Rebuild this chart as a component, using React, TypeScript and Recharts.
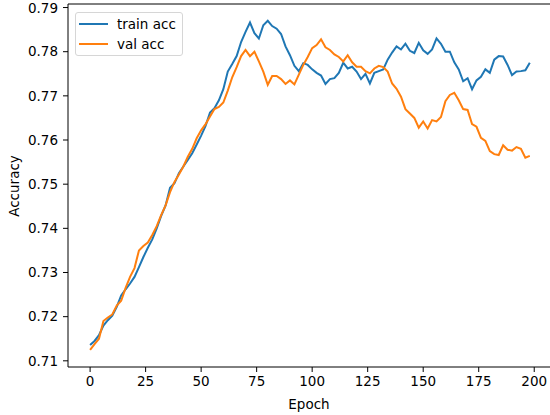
import React from 'react';
import { LineChart, Line, XAxis, YAxis, Legend, ReferenceLine } from 'recharts';

// epochs sampled every 2 steps
const epochs = [
  0, 2, 4, 6, 8, 10, 12, 14, 16, 18, 20, 22, 24, 26, 28, 30, 32, 34, 36, 38,
  40, 42, 44, 46, 48, 50, 52, 54, 56, 58, 60, 62, 64, 66, 68, 70, 72, 74, 76, 78,
  80, 82, 84, 86, 88, 90, 92, 94, 96, 98, 100, 102, 104, 106, 108, 110, 112, 114, 116, 118,
  120, 122, 124, 126, 128, 130, 132, 134, 136, 138, 140, 142, 144, 146, 148, 150, 152, 154, 156, 158,
  160, 162, 164, 166, 168, 170, 172, 174, 176, 178, 180, 182, 184, 186, 188, 190, 192, 194, 196, 198
];

const trainAcc = [
  0.7136, 0.7145, 0.7158, 0.718, 0.7192, 0.7202, 0.7222, 0.7248, 0.7262, 0.7275,
  0.729, 0.7312, 0.7335, 0.7356, 0.7375, 0.74, 0.7428, 0.7452, 0.7492, 0.7502,
  0.7525, 0.754, 0.7555, 0.757, 0.759, 0.761, 0.7632, 0.7662, 0.7672, 0.769,
  0.7715, 0.7755, 0.7772, 0.779, 0.7822, 0.7845, 0.7866, 0.7842, 0.783, 0.786,
  0.787, 0.7858, 0.7852, 0.784, 0.7812, 0.7792, 0.7768, 0.7756, 0.7774, 0.777,
  0.776, 0.7752, 0.7746, 0.7727, 0.7738, 0.774, 0.7752, 0.7775, 0.7762, 0.7766,
  0.7755, 0.7738, 0.775, 0.7728, 0.7752, 0.7756, 0.776, 0.7782, 0.7798, 0.7812,
  0.7805, 0.7818, 0.7802, 0.7797, 0.782, 0.7803, 0.7795, 0.7805, 0.783, 0.7818,
  0.78, 0.78, 0.7776, 0.776, 0.7733, 0.774, 0.7715, 0.7735, 0.7743, 0.776,
  0.7752, 0.7782, 0.779, 0.7789, 0.777, 0.7747, 0.7755, 0.7756, 0.7758, 0.7775
];

const valAcc = [
  0.7125, 0.7138, 0.715, 0.719, 0.7198, 0.7205, 0.7225, 0.7236, 0.7265, 0.729,
  0.731, 0.735, 0.736, 0.7368, 0.7385, 0.7405, 0.743, 0.7452, 0.7482, 0.7505,
  0.7522, 0.754, 0.7562, 0.758, 0.7604, 0.7622, 0.7636, 0.7653, 0.767, 0.7675,
  0.7685, 0.7712, 0.7742, 0.7765, 0.779, 0.7804, 0.779, 0.78, 0.7778, 0.7755,
  0.7725, 0.7745, 0.7745, 0.7738, 0.7727, 0.7735, 0.7726, 0.7748, 0.777, 0.7788,
  0.7808, 0.7815, 0.7828, 0.781, 0.7804, 0.7794, 0.7788, 0.7778, 0.7792, 0.7776,
  0.7766, 0.7766, 0.7756, 0.7751, 0.7762, 0.7768, 0.7765, 0.7755, 0.7728, 0.7716,
  0.7698, 0.767, 0.766, 0.765, 0.7628, 0.7642, 0.7626, 0.7645, 0.7642, 0.7652,
  0.7688, 0.7702, 0.7707, 0.769, 0.767, 0.7668, 0.7636, 0.763, 0.7605, 0.7598,
  0.7575, 0.7568, 0.7566, 0.7588, 0.7578, 0.7576, 0.7584, 0.758, 0.756, 0.7564
];

const xTicks = [0, 25, 50, 75, 100, 125, 150, 175, 200];
const yTicks = [0.71, 0.72, 0.73, 0.74, 0.75, 0.76, 0.77, 0.78, 0.79];

const data = epochs.map((epoch, i) => ({ epoch, train: trainAcc[i], val: valAcc[i] }));

const FONT = '"DejaVu Sans", sans-serif';
const FONT_SIZE = 13.5;
const BLUE = '#1f77b4';
const ORANGE = '#ff7f0e';

const legendItems = [
  { label: 'train acc', color: BLUE },
  { label: 'val acc', color: ORANGE }
];

const renderLegend = () => (
  <div
    style={{
      position: 'relative',
      width: 108,
      height: 44,
      boxSizing: 'border-box',
      border: '1px solid #d6d6d6',
      borderRadius: 3,
      background: '#fff',
      fontFamily: FONT,
      fontSize: FONT_SIZE,
      color: '#000'
    }}
  >
    {legendItems.map((item, i) => (
      <div
        key={item.label}
        style={{ position: 'absolute', left: 3, top: i * 20.6, height: 21, display: 'flex', alignItems: 'center' }}
      >
        <span style={{ display: 'inline-block', width: 29, height: 2, background: item.color }} />
        <span style={{ marginLeft: 9, whiteSpace: 'nowrap' }}>{item.label}</span>
      </div>
    ))}
  </div>
);

const yLabel = () => (
  <text
    x={15}
    y={186}
    transform="rotate(-90 15 186)"
    textAnchor="middle"
    dominantBaseline="middle"
    fontFamily={FONT}
    fontSize={FONT_SIZE}
    fill="#000"
  >
    Accuracy
  </text>
);

const tickStyle = { fontFamily: FONT, fontSize: FONT_SIZE, fill: '#000' };

export default function App() {
  return (
    <div style={{ position: 'absolute', left: 0, top: 0, background: '#fff' }}>
      <LineChart width={550} height={415} data={data} margin={{ top: 4, right: 0, bottom: 0, left: 0 }}>
        <XAxis
          dataKey="epoch"
          type="number"
          domain={[-9.95, 207.1]}
          allowDataOverflow
          ticks={xTicks}
          height={48}
          tickSize={5}
          tickMargin={4}
          tick={tickStyle}
          stroke="#000"
          tickLine={{ stroke: '#000' }}
          label={{ value: 'Epoch', position: 'insideBottom', offset: 6, style: { fontFamily: FONT, fontSize: FONT_SIZE, fill: '#000' } }}
        />
        <YAxis
          type="number"
          domain={[0.7086, 0.7908]}
          allowDataOverflow
          ticks={yTicks}
          tickFormatter={(v: number) => v.toFixed(2)}
          width={68}
          tickSize={5}
          tickMargin={5}
          tick={tickStyle}
          stroke="#000"
          tickLine={{ stroke: '#000' }}
          label={yLabel}
        />
        <ReferenceLine y={0.7908} stroke="#000" strokeWidth={1} />
        <Legend
          layout="horizontal"
          verticalAlign="middle"
          align="center"
          content={renderLegend}
          wrapperStyle={{ left: 75, top: 12, width: 'auto', height: 'auto' }}
        />
        <Line type="linear" dataKey="train" stroke={BLUE} strokeWidth={2} dot={false} isAnimationActive={false} />
        <Line type="linear" dataKey="val" stroke={ORANGE} strokeWidth={2} dot={false} isAnimationActive={false} />
      </LineChart>
    </div>
  );
}
